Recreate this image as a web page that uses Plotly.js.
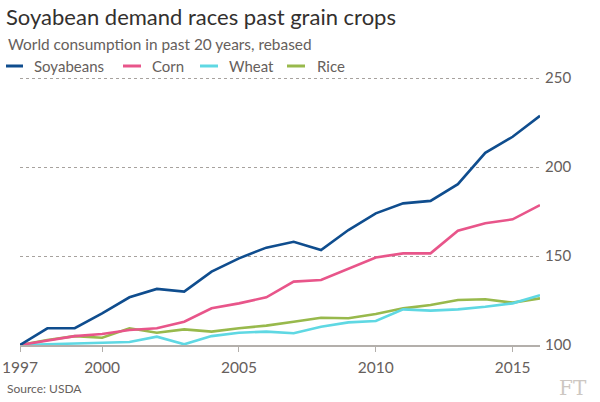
<!DOCTYPE html>
<html>
<head>
<meta charset="utf-8">
<script src="https://cdn.plot.ly/plotly-3.0.1.min.js"></script>
<style>html,body{margin:0;padding:0;background:#fff;}#chart{width:600px;height:402px;}</style>
</head>
<body>
<div id="chart"></div>
<script>
const years = [1997,1998,1999,2000,2001,2002,2003,2004,2005,2006,2007,2008,2009,2010,2011,2012,2013,2014,2015,2016];
const seriesNames = ["Soyabeans","Corn","Wheat","Rice"];
const seriesColors = ["#0f4d8e","#e8558a","#5fd8e3","#98b94c"];
const soyabeans = [100,109.4,109.5,117.8,126.8,131.5,130.0,141.2,148.7,154.7,158.0,153.4,164.6,174.0,179.6,181.0,190.4,208.0,217.0,228.8];
const corn      = [100,102.5,105.0,106.2,108.4,109.4,113.1,120.6,123.4,126.8,135.6,136.5,143.0,149.2,151.5,151.5,164.2,168.4,170.6,178.6];
const wheat     = [100,100.4,100.8,101.3,101.7,104.7,100.4,105.0,106.9,107.5,106.6,110.3,112.7,113.5,120.0,119.3,120.0,121.5,123.4,128.0];
const rice      = [100,102.8,105.0,104.1,109.4,106.9,108.8,107.5,109.4,110.9,113.1,115.3,115.0,117.4,120.6,122.5,125.3,125.7,123.8,126.2];
const xTickVals = [1997,2000,2005,2010,2015];
const yTickVals = [100,150,200,250];
const titleText = "Soyabean demand races past grain crops";
const subtitleText = "World consumption in past 20 years, rebased";
const sourceText = "Source: USDA";

const allSeries = [soyabeans, corn, wheat, rice];
const FONT = "Lato, 'Open Sans', sans-serif";
const traces = allSeries.map((vals, i) => ({
  x: years, y: vals, type: "scatter", mode: "lines", name: seriesNames[i],
  line: {color: seriesColors[i], width: 2.6}, showlegend: false, hoverinfo: "skip"
}));
traces.reverse();

const L = 20, R = 540, T = 77, B = 345;
const px = v => (v - L) / (R - L);
const py = v => (B - v) / (B - T);
const legendLineX = [[6,23],[123,141],[200,218],[287,305]];
const legendTextX = [32,150,227,315];
const legendY = 66;
const shapes = [];
const annotations = [];
seriesNames.forEach((n, i) => {
  shapes.push({type: "line", xref: "paper", yref: "paper",
    x0: px(legendLineX[i][0]), x1: px(legendLineX[i][1]), y0: py(legendY), y1: py(legendY),
    line: {color: seriesColors[i], width: 3}});
  annotations.push({xref: "paper", yref: "paper", x: px(legendTextX[i]), y: py(legendY),
    xanchor: "left", yanchor: "middle", text: n, showarrow: false,
    font: {family: FONT, size: 15, color: "#66605c"}});
});
annotations.push({xref: "paper", yref: "paper", x: px(6), y: py(44), xanchor: "left", yanchor: "middle",
  text: subtitleText, showarrow: false, font: {family: FONT, size: 15.4, color: "#66605c"}});
annotations.push({xref: "paper", yref: "paper", x: px(5), y: py(388), xanchor: "left", yanchor: "middle",
  text: sourceText, showarrow: false, font: {family: FONT, size: 12, color: "#66605c"}});
annotations.push({xref: "paper", yref: "paper", x: px(589), y: py(388), xanchor: "right", yanchor: "middle",
  text: "FT", showarrow: false, font: {family: "'DejaVu Serif', 'Liberation Serif', serif", size: 20, color: "#cdc7c2"}});

const layout = {
  width: 600, height: 402,
  paper_bgcolor: "#ffffff", plot_bgcolor: "#ffffff",
  margin: {l: L, r: 600 - R, t: T, b: 402 - B, pad: 0},
  title: {text: titleText, xref: "container", yref: "container", x: 6/600, xanchor: "left",
    y: 1 - 17/402, yanchor: "middle", font: {family: FONT, size: 22, color: "#33302e"}},
  xaxis: {range: [1997, 2016], tickvals: xTickVals, ticks: "outside", ticklen: 5, tickcolor: "#b3afab",
    showline: true, linecolor: "#b3afab", linewidth: 1.5, showgrid: false, zeroline: false,
    ticklabelstandoff: 3,
    tickfont: {family: FONT, size: 15.5, color: "#66605c"}, fixedrange: true},
  yaxis: {range: [100, 250.6], tickvals: yTickVals, side: "right", ticks: "", showline: false,
    showgrid: true, griddash: "dot", gridcolor: "#a7a29e", gridwidth: 1, zeroline: false,
    tickfont: {family: FONT, size: 15, color: "#66605c"}, ticklabelstandoff: 4, fixedrange: true},
  shapes: shapes, annotations: annotations, showlegend: false
};
Plotly.newPlot("chart", traces, layout, {displayModeBar: false, staticPlot: true});
</script>
</body>
</html>
